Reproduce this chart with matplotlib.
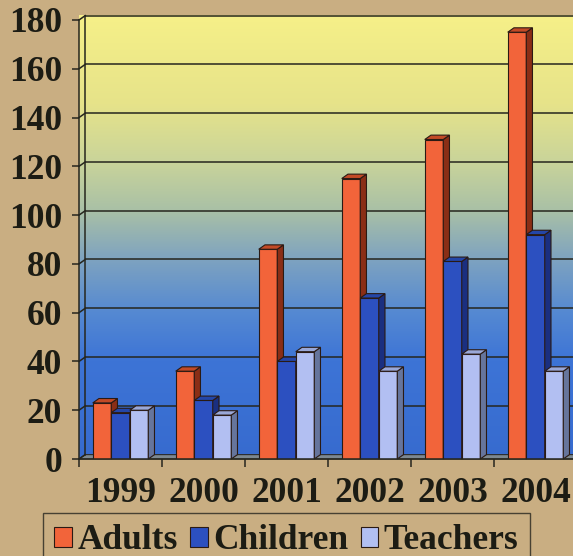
import numpy as np
import matplotlib
matplotlib.use("Agg")
import matplotlib.pyplot as plt
from matplotlib.patches import Polygon, Patch
from matplotlib.colors import LinearSegmentedColormap

years = ["1999", "2000", "2001", "2002", "2003", "2004"]
adults = [23, 36, 86, 115, 131, 175]
children = [19, 24, 40, 66, 81, 92]
teachers = [20, 18, 44, 36, 43, 36]

series = [
    ("Adults", adults, "#f2643a", "#c24a26", "#8a2e16"),
    ("Children", children, "#2c50c0", "#2446a8", "#1a2f80"),
    ("Teachers", teachers, "#b2bff2", "#9aa8d8", "#66759c"),
]

plt.rcParams["font.family"] = ["Liberation Serif", "DejaVu Serif"]
plt.rcParams["font.weight"] = "bold"
INK = "#1c1c14"
FS = 25.5

fig = plt.figure(figsize=(5.73, 5.56), dpi=100, facecolor="#c9ae82")
ax = fig.add_axes([79 / 573, (556 - 459) / 556, 498 / 573, 439 / 556])
ax.set_xlim(0, 6)
ax.set_ylim(0, 180)
ax.patch.set_visible(False)
for s in ax.spines.values():
    s.set_visible(False)

n = len(years)
ymax = 180
dx, dy = 0.075, 1.8   # depth of the 3d box in data units
w = 0.223

# back wall gradient, clipped to wall + left side wall
wall = LinearSegmentedColormap.from_list("wall", [
    (0.0, "#376bcf"), (0.22, "#3d74d6"), (0.33, "#5589d2"),
    (0.45, "#7ea3c0"), (0.56, "#a9c0a6"), (0.67, "#c9d49a"),
    (0.80, "#e6e38a"), (1.0, "#f6f088"),
])
grad = np.linspace(1, 0, 256).reshape(-1, 1)
img = ax.imshow(grad, cmap=wall, aspect="auto", extent=(0, n + dx, 0, ymax + dy),
                zorder=0, clip_on=False)
outline = Polygon([(0, 0), (0, ymax), (dx, ymax + dy), (n + dx, ymax + dy),
                   (n + dx, dy), (n, 0)], closed=True, transform=ax.transData)
img.set_clip_path(outline)

# floor strip
ax.add_patch(Polygon([(0, 0), (n, 0), (n + dx, dy), (dx, dy)], closed=True,
                     facecolor="#7d8890", edgecolor="#2a2a2a", lw=0.8, zorder=1,
                     clip_on=False))

# gridlines on the back wall and the left wall
ticks = np.arange(0, ymax + 1, 20)
ax.hlines(ticks[1:] + dy, dx, n + dx, color="#26261e", lw=1.1, zorder=1, clip_on=False)
for v in ticks:
    ax.plot([0, dx], [v, v + dy], color="#26261e", lw=1.1, zorder=1, clip_on=False)
ax.plot([0, 0], [0, ymax], color="#26261e", lw=1.1, zorder=1, clip_on=False)
ax.plot([dx, dx], [dy, ymax + dy], color="#26261e", lw=1.1, zorder=1, clip_on=False)

# bars with top and side faces
centers = np.arange(n) + 0.5
for k, (name, vals, front, top, side) in enumerate(series):
    xs = centers + (k - 1) * w
    z = 3 + k
    ax.bar(xs, vals, width=w, color=front, edgecolor="#2a1a14", lw=0.8, zorder=z)
    for x, v in zip(xs - w / 2, vals):
        ax.add_patch(Polygon([(x + w, 0), (x + w + dx, dy), (x + w + dx, v + dy), (x + w, v)],
                             closed=True, facecolor=side, edgecolor="#2a1a14", lw=0.8,
                             zorder=z, clip_on=False))
        ax.add_patch(Polygon([(x, v), (x + w, v), (x + w + dx, v + dy), (x + dx, v + dy)],
                             closed=True, facecolor=top, edgecolor="#2a1a14", lw=0.8,
                             zorder=z, clip_on=False))

ax.plot([0, n], [0, 0], color="#26261e", lw=1.1, zorder=7, clip_on=False)

# axes ticks and labels
ax.set_yticks(ticks)
ax.set_yticklabels([str(t) for t in ticks])
ax.tick_params(axis="y", direction="out", length=5, width=1.1, color="#26261e",
               pad=7, labelsize=FS, labelcolor=INK)
ax.set_xticks(np.arange(n + 1), minor=True)
ax.set_xticks(centers)
ax.set_xticklabels(years)
ax.tick_params(axis="x", which="minor", direction="out", length=6, width=1.1, color="#26261e")
ax.tick_params(axis="x", which="major", length=0, pad=13, labelsize=FS, labelcolor=INK)

handles = [Patch(facecolor=c, edgecolor="#2a1a14", lw=0.8) for _, _, c, _, _ in series]
leg = fig.legend(handles, [s[0] for s in series], loc="upper left",
                 bbox_to_anchor=(43 / 573, 1 - 513 / 556), ncol=3, frameon=True,
                 fancybox=False, fontsize=FS, handlelength=0.5, handleheight=0.5,
                 handletextpad=0.15, columnspacing=0.35, borderpad=0.32, borderaxespad=0)
leg.get_frame().set_facecolor("none")
leg.get_frame().set_edgecolor("#26261e")
leg.get_frame().set_linewidth(1.0)
for t in leg.get_texts():
    t.set_color(INK)

fig.savefig("out.png", dpi=100, facecolor=fig.get_facecolor())
